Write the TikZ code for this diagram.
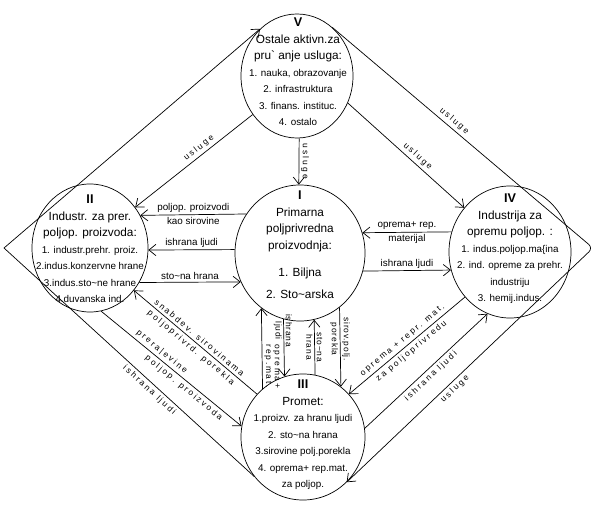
\documentclass[tikz,border=0pt]{standalone}
\usepackage{fontspec}
\setmainfont{Liberation Sans}
\usetikzlibrary{shapes,arrows.meta,positioning,calc}

\newcommand{\sectitle}[1]{{\fontsize{8.4}{11.7}\selectfont #1}}
\newcommand{\secnum}[1]{{\fontsize{9}{11.7}\selectfont\bfseries #1}}
\newcommand{\spaced}[2][25]{{\addfontfeature{LetterSpace=#1}#2}}

\begin{document}
\begin{tikzpicture}[
    x=0.025cm, y=-0.025cm,
    every node/.style={font=\fontsize{7}{11.7}\selectfont},
    sector/.style={ellipse, draw=black, line width=0.5pt, inner sep=0pt},
    sectortext/.style={align=center, inner sep=0pt},
    arrow/.style={-{Straight Barb[length=5pt,width=8pt]}, black, line width=0.5pt},
    flowlabel/.style={font=\fontsize{7}{8}\selectfont, inner sep=1.5pt},
    slopelabel/.style={font=\fontsize{6}{7}\selectfont, inner sep=2pt, sloped},
    vertlabel/.style={font=\fontsize{6}{7}\selectfont, inner sep=1.2pt, rotate=-90}
]
\useasboundingbox (0,0) rectangle (600,519);

% Sectors
\node[sector, minimum width=2.8cm, minimum height=3.1cm] (V) at (297,76) {};
\node[sector, minimum width=3.25cm, minimum height=3.4cm] (I) at (300,253) {};
\node[sector, minimum width=2.9cm, minimum height=3.2cm] (II) at (90,248) {};
\node[sector, minimum width=3.05cm, minimum height=3.3cm] (IV) at (510,252) {};
\node[sector, minimum width=3.1cm, minimum height=3.15cm] (III) at (303,437) {};

% Sector texts
\node[sectortext] (Vtxt) at (298,72) {\secnum{V}\\ \sectitle{Ostale aktivn.za}\\ \sectitle{pru\textasciigrave{} anje usluga:}\\ 1. nauka, obrazovanje\\ 2. infrastruktura\\ 3. finans. instituc.\\ 4. ostalo};
\node[sectortext] (Itxt) at (300,245) {\secnum{I}\\ \sectitle{Primarna}\\ \sectitle{poljprivredna}\\ \sectitle{proizvodnja:}\\[8pt] \sectitle{1. Biljna}\\[4pt] \sectitle{2. Sto\textasciitilde arska}};
\node[sectortext] (IItxt) at (90,249) {\secnum{II}\\ \sectitle{Industr. za prer.}\\ \sectitle{poljop. proizvoda:}\\ 1. industr.prehr. proiz.\\ 2.indus.konzervne hrane\\ 3.indus.sto\textasciitilde ne hrane\\ 4.duvanska ind.};
\node[sectortext] (IVtxt) at (510,249) {\secnum{IV}\\ \sectitle{Industrija za}\\ \sectitle{opremu poljop. :}\\ 1. indus.poljop.ma\{ina\\ 2. ind. opreme za prehr.\\ industriju\\ 3. hemij.indus.};
\node[sectortext] (IIItxt) at (303,435) {\secnum{III}\\ \sectitle{Promet:}\\ 1.proizv. za hranu ljudi\\ 2. sto\textasciitilde na hrana\\ 3.sirovine polj.porekla\\ 4. oprema+ rep.mat.\\ za poljop.};

% Outer frame
\coordinate (lc) at (4,248);
\coordinate (rc) at (593,248);

% Arrows
\draw[arrow] (III.219) -- node[slopelabel, pos=0.4, below] {\spaced{ishrana ljudi}} (lc) -- (V.128);
\draw[arrow, rounded corners=4pt] (V.54.5) -- node[slopelabel, pos=0.45, above] {\spaced{usluge}} (rc) -- node[slopelabel, pos=0.58, below] {\spaced{usluge}} (III.314);

\draw[arrow] (V.221.8) -- node[slopelabel, pos=0.42, above] {\spaced{usluge}} (II.42.3);
\draw[arrow] (V.272) -- node[vertlabel, above] {\spaced{usluge}} (I.91);
\draw[arrow] (V.332.6) -- node[slopelabel, pos=0.56, above] {\spaced{usluge}} (IV.136.2);

\draw[arrow] (I.144.8) -- node[flowlabel, above] {poljop. proizvodi} node[flowlabel, below] {kao sirovine} (II.33.6);
\draw[arrow] (I.177.4) -- node[flowlabel, above] {ishrana ljudi} (II.358);
\draw[arrow] (II.325.3) -- node[flowlabel, above] {sto\textasciitilde na hrana} (I.206.3);

\draw[arrow] (IV.161) -- node[flowlabel, above] {oprema+ rep.} node[flowlabel, below] {materijal} (I.18.8);
\draw[arrow] (I.344.9) -- node[flowlabel, above] {ishrana ljudi} (IV.197);

\draw[arrow] (III.130.9) -- node[vertlabel, pos=0.28, above, inner ysep=7.5pt] {\spaced[20]{oprema+}} node[vertlabel, pos=0.28, above] {\spaced[20]{rep.mat.}} (I.235.5);
\draw[arrow] (I.256.4) -- node[vertlabel, pos=0.2, above] {\spaced[10]{ishrana}} node[vertlabel, pos=0.2, below] {\spaced[10]{ljudi}} (III.107.6);
\draw[arrow] (III.79) -- node[vertlabel, pos=0.5, above] {\spaced[10]{sto\textasciitilde na}} node[vertlabel, pos=0.5, below] {\spaced[10]{hrana}} (I.282.8);
\draw[arrow] (I.306.7) -- node[vertlabel, pos=0.4, above] {\spaced[10]{sirov.polj.}} node[vertlabel, pos=0.4, below] {\spaced[10]{porekla}} (III.53.8);

\draw[arrow] (III.137) -- node[slopelabel, above] {\spaced{snabdev. sirovinama}} node[slopelabel, below] {\spaced{poljoprivrd. porekla}} (II.316.7);
\draw[arrow] (II.280) -- node[slopelabel, pos=0.4, above] {\spaced{prera\textbar evine}} node[slopelabel, pos=0.62, below] {\spaced{poljop. proizvoda}} (III.170);

\draw[arrow] (IV.225.6) -- node[slopelabel, above] {\spaced{oprema + repr. mat.}} node[slopelabel, below] {\spaced{za poljoprivredu}} (III.43.1);
\draw[arrow] (III.8.5) -- node[slopelabel, pos=0.5, below] {\spaced{ishrana ljudi}} (IV.250.8);

\end{tikzpicture}
\end{document}
